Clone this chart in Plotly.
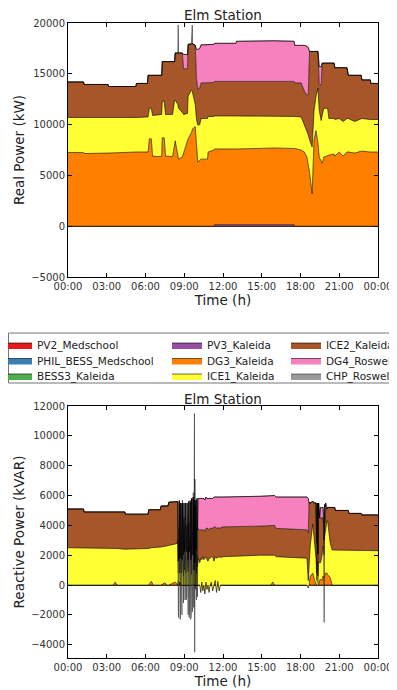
import plotly.graph_objects as go

# ---------------- legend / series definitions ----------------
names = ["PV2_Medschool", "PHIL_BESS_Medschool", "BESS3_Kaleida", "PV3_Kaleida",
         "DG3_Kaleida", "ICE1_Kaleida", "ICE2_Kaleida", "DG4_Roswell", "CHP_Roswell"]
colors = ["#e41a1c", "#377eb8", "#4daf4a", "#984ea3",
          "#ff7f00", "#ffff33", "#a65628", "#f781bf", "#999999"]

x_tickvals = [0, 3, 6, 9, 12, 15, 18, 21, 24]
x_ticktext = ["00:00", "03:00", "06:00", "09:00", "12:00", "15:00", "18:00", "21:00", "00:00"]
p_tickvals = [-5000, 0, 5000, 10000, 15000, 20000]
q_tickvals = [-4000, -2000, 0, 2000, 4000, 6000, 8000, 10000, 12000]

# ---------------- Real power (kW), time in hours ----------------
t_p = [0.00, 1.20, 1.25, 3.10, 3.15, 5.25, 5.30, 6.15, 6.20, 6.30,
       6.45, 6.55, 7.00, 7.25, 7.30, 7.45, 7.55, 8.10, 8.25, 8.30,
       8.50, 8.53, 8.56, 8.85, 8.95, 9.25, 9.30, 9.55, 9.62, 9.65,
       9.85, 9.95, 10.05, 10.20, 10.30, 10.80, 10.85, 11.30, 11.35, 13.00,
       13.05, 16.00, 17.50, 17.55, 18.05, 18.30, 18.50, 18.60, 18.70, 18.90,
       19.05, 19.20, 19.35, 19.45, 19.60, 19.68, 19.80, 20.10, 20.20, 20.60,
       20.65, 21.00, 21.30, 21.60, 21.70, 22.20, 22.70, 22.75, 23.40, 23.45, 24.00]
zero_p = [0, 0, 0, 0, 0, 0, 0, 0, 0, 0,
          0, 0, 0, 0, 0, 0, 0, 0, 0, 0,
          0, 0, 0, 0, 0, 0, 0, 0, 0, 0,
          0, 0, 0, 0, 0, 0, 0, 0, 0, 0,
          0, 0, 0, 0, 0, 0, 0, 0, 0, 0,
          0, 0, 0, 0, 0, 0, 0, 0, 0, 0,
          0, 0, 0, 0, 0, 0, 0, 0, 0, 0, 0]
pv3_p = [0, 0, 0, 0, 0, 0, 0, 0, 0, 0,
         0, 0, 0, 0, 0, 0, 0, 0, 0, 0,
         0, 0, 0, 0, 0, 0, 0, 0, 0, 0,
         0, 0, 0, 0, 0, 0, 0, 0, 150, 150,
         150, 150, 150, 0, 0, 0, 0, 0, 0, 0,
         0, 0, 0, 0, 0, 0, 0, 0, 0, 0,
         0, 0, 0, 0, 0, 0, 0, 0, 0, 0, 0]
dg3_p = [7250, 7250, 7150, 7150, 7200, 7300, 7300, 7300, 7300, 8600,
         8600, 6900, 6850, 6900, 8700, 8700, 6900, 6850, 8400, 8400,
         7000, 6800, 6600, 6800, 7200, 8400, 8600, 9200, 9500, 9600,
         9800, 7800, 6300, 6500, 6600, 6600, 7300, 7500, 7450, 7450,
         7450, 7550, 7500, 7650, 7500, 7300, 6800, 6200, 5300, 3200,
         8500, 9400, 8200, 6800, 6300, 6200, 6800, 7000, 7000, 7100,
         6900, 7300, 6900, 7300, 7300, 7200, 7400, 7400, 7300, 7300, 7300]
ice1_p = [3450, 3450, 3500, 3500, 3450, 3400, 3400, 3450, 3450, 3000,
          3000, 4000, 4100, 4100, 3600, 3600, 4100, 4150, 4000, 4000,
          5000, 5000, 5000, 4400, 3800, 2700, 4200, 4200, 3800, 3500,
          2200, 2700, 3650, 3500, 4000, 4000, 3500, 3300, 3250, 3250,
          3250, 3150, 3150, 3150, 3250, 2700, 2600, 2800, 3200, 4600,
          2900, 3400, 5400, 4600, 4100, 4800, 4800, 4600, 3600, 3500,
          3600, 3300, 3400, 3300, 3300, 3100, 3200, 3200, 3200, 3200, 3200]
ice2_p = [3500, 3500, 3300, 3300, 3100, 3050, 3350, 3300, 4100, 3250,
          3250, 3950, 3900, 3850, 3900, 3900, 5200, 5200, 3800, 4650,
          5050, 5250, 5450, 5850, 4500, 4400, 5100, 4550, 4650, 4850,
          5800, 4000, 3550, 3600, 3500, 3500, 3300, 3350, 3400, 3400,
          3400, 3450, 3450, 3300, 3350, 3300, 3500, 4000, 8700, 9400,
          5800, 4400, 3600, 2600, 3500, 5050, 4450, 4450, 5450, 5450,
          5100, 5000, 5300, 5000, 4250, 4550, 4250, 3800, 3900, 3550, 3550]
dg4_p = [0, 0, 0, 0, 0, 0, 0, 0, 0, 0,
         0, 0, 0, 0, 0, 0, 0, 0, 0, 0,
         0, 0, 0, 0, 1400, 1400, 0, 0, 0, 0,
         0, 2900, 3900, 3900, 3750, 3750, 3750, 3750, 3750, 3750,
         3950, 3950, 3950, 3700, 3700, 4500, 4800, 4600, 0, 0,
         0, 0, 0, 1700, 1800, 0, 0, 0, 0, 0,
         0, 0, 0, 0, 0, 0, 0, 0, 0, 0, 0]
chp_p = [0, 0, 0, 0, 0, 0, 0, 0, 0, 0,
         0, 0, 0, 0, 0, 0, 0, 0, 0, 0,
         0, 2750, 0, 0, 0, 0, 0, 0, 1850, 0,
         0, 0, 0, 0, 0, 0, 0, 0, 0, 0,
         0, 0, 0, 0, 0, 0, 0, 0, 0, 0,
         0, 0, 0, 0, 0, 0, 0, 0, 0, 0,
         0, 0, 0, 0, 0, 0, 0, 0, 0, 0, 0]

# ---------------- Reactive power (kVAR), time in hours ----------------
t_q = [0.00, 1.20, 1.25, 3.50, 3.65, 3.80, 4.40, 4.45, 6.20, 6.25,
       6.45, 6.60, 7.15, 7.20, 7.50, 7.65, 7.75, 7.80, 8.30, 8.45,
       8.50, 8.54, 8.58, 8.62, 8.66, 8.70, 8.74, 8.78, 8.82, 8.86,
       8.90, 8.94, 8.98, 9.02, 9.06, 9.10, 9.14, 9.18, 9.22, 9.26,
       9.30, 9.34, 9.38, 9.42, 9.46, 9.50, 9.54, 9.58, 9.62, 9.66,
       9.70, 9.74, 9.77, 9.79, 9.81, 9.83, 9.87, 9.90, 9.94, 9.98,
       10.02, 10.06, 10.10,
       10.20, 10.28, 10.36, 10.44, 10.52, 10.60, 10.68, 10.76, 10.84, 10.92,
       11.00, 11.10, 11.20, 11.30, 11.40, 11.50, 11.60, 11.70, 11.80, 12.00,
       14.90, 15.70, 15.85, 16.00, 16.10, 18.40,
       18.50, 18.60, 18.66, 18.75, 18.95, 19.10, 19.20, 19.25, 19.30, 19.35,
       19.40, 19.48, 19.55, 19.65, 19.75, 19.80, 19.83, 19.86, 19.90, 19.95,
       20.05, 20.10, 20.30, 20.45,
       20.65, 20.70, 21.70, 21.75, 22.70, 22.75, 24.00]
zero_q = [0, 0, 0, 0, 0, 0, 0, 0, 0, 0, 0, 0, 0, 0, 0, 0, 0, 0, 0, 0,
          0, 0, 0, 0, 0, 0, 0, 0, 0, 0, 0, 0, 0, 0, 0, 0, 0, 0, 0, 0,
          0, 0, 0, 0, 0, 0, 0, 0, 0, 0, 0, 0, 0, 0, 0, 0, 0, 0, 0, 0,
          0, 0, 0, 0, 0, 0, 0, 0, 0, 0, 0, 0, 0, 0, 0, 0, 0, 0, 0, 0,
          0, 0, 0, 0, 0, 0, 0, 0, 0, 0, 0, 0, 0, 0, 0, 0, 0, 0, 0, 0,
          0, 0, 0, 0, 0, 0, 0, 0, 0, 0, 0, 0, 0, 0, 0, 0, 0, 0, 0, 0]
dg3_q = [0, 0, 0, 0, 200, 0, 0, 0, 0, 0, 250, 0, 0, 0, 150, 0, 0, 0, 200, 0,
         0, 300, 0, 0, 200, 0, 0, 0, 0, 0, 0, 0, 0, 0, 0, 0, 0, 0, 0, 0,
         0, 0, 0, 0, 0, 0, 0, 0, 0, 0, 0, 0, 0, 0, 0, 0, 0, 0, 0, 0, 0, 0, 0,
         0, -500, 200, -400, 0, -600, 200, -300, 0, -500, 0, 200, -400, 0, 300,
         -500, 250, -400, 0, 0, 0, 0, 200, 0, 0, 0,
         0, -200, 0, 600, 800, 300, 0, 0, 0, 0, 0, 300, 400, 300, 600, 500,
         500, 600, 700, 800, 800, 700, 500, 0,
         0, 0, 0, 0, 0, 0, 0]
ice1_q = [2500, 2500, 2450, 2450, 2250, 2450, 2400, 2400, 2450, 2450,
          2250, 2500, 2550, 2550, 2450, 2600, 2650, 2650, 2550, 2800,
          3000, 500, 1200, 3800, 600, 1500, 2800, 800, 1000, 3500,
          1200, 600, 3000, 1000, 1500, 2000, 800, 1200, 2600, 1500,
          900, 2800, 1200, 1400, 3000, 900, 700, 2800, 1400, 1000,
          3200, 1000, 3000, 2000, 1000, 2800, 1500, 2200, 800, 2000,
          1200, 1800, 1800,
          1500, 2300, 1500, 2300, 1700, 2400, 1700, 2000, 1600, 2300,
          1800, 1700, 2300, 1600, 1600, 2300, 1600, 2300, 1850, 1900,
          2000, 2000, 1800, 2000, 1900, 1850,
          1800, 500, 1500, 2000, 3300, 2500, 1800, 800, 1600, 600,
          1500, 1200, 1100, 1600, 2000, 1800, 1500, 2600, 2800, 3000,
          3500, 3600, 2300, 2350,
          2350, 2350, 2350, 2350, 2350, 2350, 2300]
ice2_q = [2600, 2600, 2450, 2450, 2450, 2450, 2500, 2350, 2300, 2600,
          2550, 2550, 2500, 2750, 2700, 2700, 2650, 2900, 2800, 2750,
          2600, 800, 600, 1800, 1000, 500, 2700, 900, 700, 2000,
          1000, 1400, 1500, 1200, 1000, 2000, 1500, 1000, 1400, 1000,
          800, 1400, 1000, 1000, 2600, 800, 1200, 3000, 1000, 1000,
          2700, 1000, 2700, 2000, 500, 2500, 1000, 1500, 1500, 1800,
          2500, 2000, 1900,
          2200, 1900, 2000, 1800, 2000, 1800, 1900, 2100, 2200, 1900,
          2000, 1900, 1900, 2300, 2000, 2000, 2000, 1900, 2000, 2000,
          1950, 2000, 2000, 2000, 1900, 1900,
          1900, 3200, 4000, 2900, 1500, 2700, 3700, 2000, 3900, 1500,
          4000, 3000, 3000, 2600, 1900, 1500, 1000, 1500, 1200, 1300,
          800, 900, 2400, 2850,
          2850, 2650, 2650, 2450, 2450, 2350, 2400]
dg4_q = [0, 0, 0, 0, 0, 0, 0, 0, 0, 0, 0, 0, 0, 0, 0, 0, 0, 0, 0, 0,
         0, 0, 0, 0, 0, 0, 0, 0, 0, 0, 0, 0, 1000, 0, 0, 1500, 0, 0, 1500, 0,
         0, 1400, 0, 0, 0, 0, 0, 0, 0, 0, 0, 0, 0, 0, 0, 0, 0, 2000, 0, 2000,
         0, 2000, 2100,
         2100, 2100, 2100, 2100, 2100, 2100, 2100, 2000, 2000, 2100,
         2000, 2000, 2000, 2000, 2000, 2100, 2000, 2100, 2050, 2000,
         2000, 2000, 2000, 2000, 2100, 2150,
         2200, 2300, 0, 0, 0, 0, 0, 0, 0, 0, 0, 0, 700, 700, 700, 700,
         0, 700, 500, 400, 0, 0, 0, 0,
         0, 0, 0, 0, 0, 0, 0]
chp_q = [0, 0, 0, 0, 0, 0, 0, 0, 0, 0, 0, 0, 0, 0, 0, 0, 0, 0, 0, 0,
         0, -3400, -4000, 100, -3300, -4300, 0, -3500, -3700, 200,
         -3000, -3200, 0, -3000, -3500, 0, -3300, -3000, 0, -3600,
         -3700, 0, -4400, -3800, 100, -4000, -4000, 0, -4200, -3500,
         300, -3500, 1400, 7500, -6000, 1800, -2800, 0, -3300, 0,
         -4500, 0, 0,
         0, 0, 0, 0, 0, 0, 0, 0, 0, 0, 0, 0, 0, 0, 0, 0, 0, 0, 0, 0,
         0, 0, 0, 0, 0, 0,
         0, 0, 0, 0, 0, 0, 0, -2500, 0, -2000, 0, 0, 0, 0, 0, -1500,
         -5500, 0, -1000, 0, 0, 0, 0, 0,
         0, 0, 0, 0, 0, 0, 0]

series_p = [zero_p, zero_p, zero_p, pv3_p, dg3_p, ice1_p, ice2_p, dg4_p, chp_p]
series_q = [zero_q, zero_q, zero_q, zero_q, dg3_q, ice1_q, ice2_q, dg4_q, chp_q]
for s in series_p:
    assert len(s) == len(t_p)
for s in series_q:
    assert len(s) == len(t_q)

# ---------------- figure ----------------
# The page shows the figure offset by the 8px body margin; the figure is sized so
# that it exactly fills the rest of the 397x690 window. Positions are given in
# window pixels and converted to paper fractions.
OFF = 8
W, H = 397 - OFF, 690 - OFF


def px(x):
    return (x - OFF) / W


def py(y):
    return 1 - (y - OFF) / H


line_w = [0.6, 0.6, 0.6, 0.6, 0.6, 0.6, 0.6, 0.6, 0.45]

fig = go.Figure()
for k in range(9):
    leg = "legend" if k == 0 else f"legend{k + 1}"
    fig.add_trace(go.Scatter(
        x=t_p, y=series_p[k], name=names[k], stackgroup="p", mode="lines",
        line=dict(color="black", width=line_w[k]), fillcolor=colors[k],
        legend=leg, xaxis="x", yaxis="y", hoverinfo="skip"))
for k in range(9):
    fig.add_trace(go.Scatter(
        x=t_q, y=series_q[k], name=names[k], stackgroup="q", mode="lines",
        line=dict(color="black", width=line_w[k]), fillcolor=colors[k],
        showlegend=False, xaxis="x2", yaxis="y2", hoverinfo="skip"))

font = dict(family="DejaVu Sans", size=10, color="#222")
axis_common = dict(showline=True, linecolor="black", linewidth=1, mirror="ticks",
                   ticks="inside", ticklen=4, tickcolor="black", showgrid=False,
                   zeroline=False, automargin=False,
                   tickfont=dict(family="DejaVu Sans", size=10, color="#333"))
title_font = dict(family="DejaVu Sans", size=13.5, color="#222")

xdom = [px(68), px(378)]
layout = dict(
    width=W, height=H, margin=dict(l=0, r=0, t=0, b=0, autoexpand=False),
    paper_bgcolor="white", plot_bgcolor="white", font=font, hovermode=False,
    xaxis=dict(domain=xdom, anchor="y", range=[0, 24], tickvals=x_tickvals,
               ticktext=x_ticktext,
               title=dict(text="Time (h)", font=title_font, standoff=2), **axis_common),
    yaxis=dict(domain=[py(277), py(23)], anchor="x", range=[-5000, 20000],
               tickvals=p_tickvals, tickformat="d",
               title=dict(text="Real Power (kW)", font=title_font, standoff=3),
               **axis_common),
    xaxis2=dict(domain=xdom, anchor="y2", range=[0, 24], tickvals=x_tickvals,
                ticktext=x_ticktext,
                title=dict(text="Time (h)", font=title_font, standoff=2), **axis_common),
    yaxis2=dict(domain=[py(658), py(406)], anchor="x2", range=[-4890, 12000],
                tickvals=q_tickvals, tickformat="d",
                title=dict(text="Reactive Power (kVAR)", font=title_font, standoff=3),
                **axis_common),
    annotations=[
        dict(text="Elm Station", x=px(223), y=py(15), xref="paper", yref="paper",
             showarrow=False, font=title_font, xanchor="center", yanchor="middle"),
        dict(text="Elm Station", x=px(223), y=py(399), xref="paper", yref="paper",
             showarrow=False, font=title_font, xanchor="center", yanchor="middle"),
    ],
    shapes=[dict(type="rect", xref="paper", yref="paper",
                 x0=px(8.5), x1=px(402), y0=py(383), y1=py(333),
                 line=dict(color="#777", width=1), fillcolor="rgba(0,0,0,0)")],
)

leg_left_x = [-3, 167, 286]
leg_row_y = [345, 360.5, 376]
for k in range(9):
    col, row = divmod(k, 3)
    key = "legend" if k == 0 else f"legend{k + 1}"
    layout[key] = dict(
        x=px(leg_left_x[col]), y=py(leg_row_y[row]),
        xref="paper", yref="paper", xanchor="left", yanchor="middle",
        bgcolor="rgba(0,0,0,0)", borderwidth=0,
        font=dict(family="DejaVu Sans", size=10.5, color="#222"))

fig.update_layout(**layout)
fig.write_html("out.html")
